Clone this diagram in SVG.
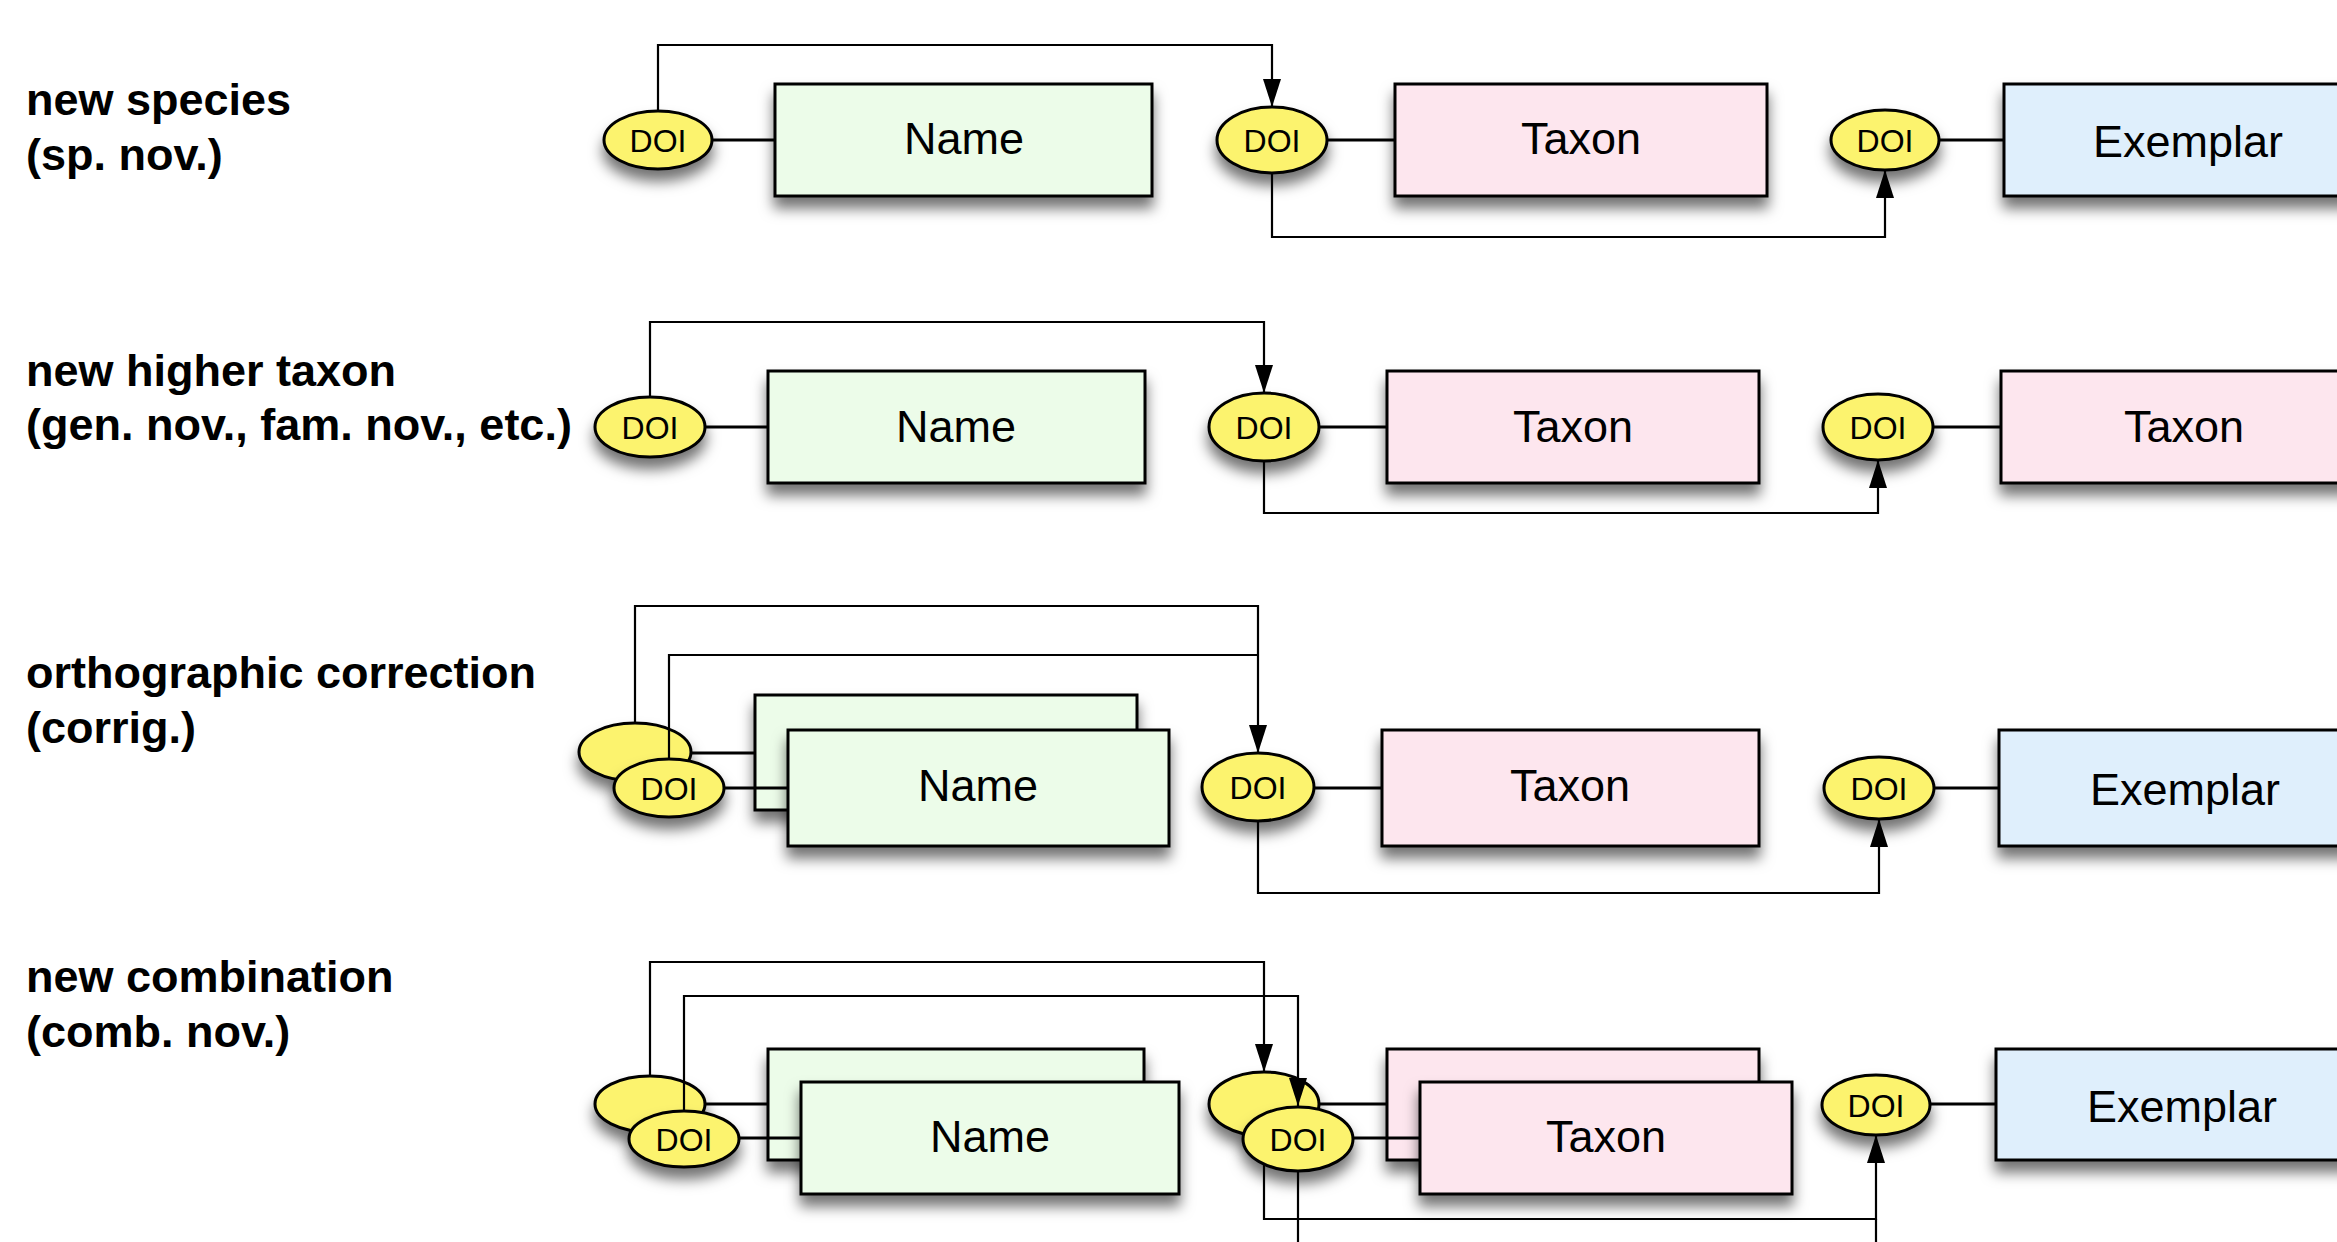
<svg xmlns="http://www.w3.org/2000/svg" width="2337" height="1242" viewBox="0 0 2337 1242">
<defs>
<filter id="sh" x="-20%" y="-30%" width="140%" height="190%">
<feDropShadow dx="0" dy="11" stdDeviation="7" flood-color="#000" flood-opacity="0.55"/>
</filter>
<marker id="arr" markerUnits="userSpaceOnUse" markerWidth="30" markerHeight="20" refX="28" refY="9" orient="auto">
<path d="M0,0 L28,9 L0,18 z" fill="#000"/>
</marker>
<style>
.lbl{font-family:"Liberation Sans",Arial,sans-serif;font-weight:bold;font-size:45px;fill:#000}
.t{font-family:"Liberation Sans",Arial,sans-serif;font-size:45px;fill:#000;text-anchor:middle}
.d{font-family:"Liberation Sans",Arial,sans-serif;font-size:32px;fill:#000;text-anchor:middle}
.doi{fill:#FCF36E;stroke:#000;stroke-width:3;filter:url(#sh)}
.name{fill:#ECFCE9;stroke:#000;stroke-width:3;filter:url(#sh)}
.taxon{fill:#FDE6EE;stroke:#000;stroke-width:3;filter:url(#sh)}
.ex{fill:#DFEFFC;stroke:#000;stroke-width:3;filter:url(#sh)}
.c{fill:none;stroke:#000;stroke-width:2.2}
.a{fill:none;stroke:#000;stroke-width:2.2;marker-end:url(#arr)}
.l{fill:none;stroke:#000;stroke-width:3}
</style>
</defs>
<rect width="2337" height="1242" fill="#fff"/>

<g id="labels">
<text class="lbl" x="26" y="115">new species</text>
<text class="lbl" x="26" y="170">(sp. nov.)</text>
<text class="lbl" x="26" y="386">new higher taxon</text>
<text class="lbl" x="26" y="440">(gen. nov., fam. nov., etc.)</text>
<text class="lbl" x="26" y="688">orthographic correction</text>
<text class="lbl" x="26" y="743">(corrig.)</text>
<text class="lbl" x="26" y="992">new combination</text>
<text class="lbl" x="26" y="1047">(comb. nov.)</text>
</g>

<!-- Row 1 -->
<g id="r1-doi1"><ellipse class="doi" cx="658" cy="140" rx="54" ry="29"/><text class="d" x="658" y="152">DOI</text></g>
<g id="r1-name"><rect class="name" x="775" y="84" width="377" height="112"/><text class="t" x="964" y="154">Name</text></g>
<g id="r1-doi2"><ellipse class="doi" cx="1272" cy="140" rx="55" ry="33"/><text class="d" x="1272" y="152">DOI</text></g>
<g id="r1-taxon"><rect class="taxon" x="1395" y="84" width="372" height="112"/><text class="t" x="1581" y="154">Taxon</text></g>
<g id="r1-doi3"><ellipse class="doi" cx="1885" cy="140" rx="54" ry="30"/><text class="d" x="1885" y="152">DOI</text></g>
<g id="r1-exemplar"><rect class="ex" x="2004" y="84" width="372" height="112"/><text class="t" x="2188" y="157">Exemplar</text></g>

<!-- Row 2 -->
<g id="r2-doi1"><ellipse class="doi" cx="650" cy="427" rx="55" ry="30"/><text class="d" x="650" y="439">DOI</text></g>
<g id="r2-name"><rect class="name" x="768" y="371" width="377" height="112"/><text class="t" x="956" y="442">Name</text></g>
<g id="r2-doi2"><ellipse class="doi" cx="1264" cy="427" rx="55" ry="34"/><text class="d" x="1264" y="439">DOI</text></g>
<g id="r2-taxon"><rect class="taxon" x="1387" y="371" width="372" height="112"/><text class="t" x="1573" y="442">Taxon</text></g>
<g id="r2-doi3"><ellipse class="doi" cx="1878" cy="427" rx="55" ry="33"/><text class="d" x="1878" y="439">DOI</text></g>
<g id="r2-taxon2"><rect class="taxon" x="2001" y="371" width="372" height="112"/><text class="t" x="2184" y="442">Taxon</text></g>

<!-- Row 3 back nodes -->
<g id="r3-doi1-back"><ellipse class="doi" cx="635" cy="752" rx="56" ry="29"/></g>
<g id="r3-name-back"><rect class="name" x="755" y="695" width="382" height="115"/></g>

<!-- Row 4 back nodes -->
<g id="r4-doi1-back"><ellipse class="doi" cx="650" cy="1104" rx="55" ry="28"/></g>
<g id="r4-name-back"><rect class="name" x="768" y="1049" width="376" height="111"/></g>
<g id="r4-doi2-back"><ellipse class="doi" cx="1264" cy="1104" rx="55" ry="32"/></g>
<g id="r4-taxon-back"><rect class="taxon" x="1387" y="1049" width="372" height="111"/></g>

<g id="connectors">
<!-- row 1 -->
<line class="l" x1="712" y1="140" x2="775" y2="140"/>
<line class="l" x1="1327" y1="140" x2="1395" y2="140"/>
<line class="l" x1="1939" y1="140" x2="2004" y2="140"/>
<path class="a" d="M658,111 V45 H1272 V107"/>
<path class="a" d="M1272,173 V237 H1885 V170"/>
<!-- row 2 -->
<line class="l" x1="705" y1="427" x2="768" y2="427"/>
<line class="l" x1="1319" y1="427" x2="1387" y2="427"/>
<line class="l" x1="1933" y1="427" x2="2001" y2="427"/>
<path class="a" d="M650,397 V322 H1264 V393"/>
<path class="a" d="M1264,461 V513 H1878 V460"/>
<!-- row 3 -->
<line class="l" x1="691" y1="753" x2="755" y2="753"/>
<line class="l" x1="724" y1="788" x2="788" y2="788"/>
<line class="l" x1="1314" y1="788" x2="1382" y2="788"/>
<line class="l" x1="1934" y1="788" x2="1999" y2="788"/>
<path class="a" d="M635,723 V606 H1258 V753"/>
<path class="c" d="M669,759 V655 H1258"/>
<path class="a" d="M1258,821 V893 H1879 V819"/>
<!-- row 4 -->
<line class="l" x1="705" y1="1104" x2="768" y2="1104"/>
<line class="l" x1="739" y1="1138" x2="801" y2="1138"/>
<line class="l" x1="1319" y1="1104" x2="1387" y2="1104"/>
<line class="l" x1="1353" y1="1138" x2="1420" y2="1138"/>
<line class="l" x1="1930" y1="1104" x2="1996" y2="1104"/>
<path class="a" d="M650,1076 V962 H1264 V1072"/>
<path class="a" d="M684,1111 V996 H1298 V1106"/>
<path class="a" d="M1264,1136 V1219 H1876 V1135"/>
<path class="c" d="M1298,1172 V1260 H1876 V1219"/>
</g>

<!-- Row 3 front nodes -->
<g id="r3-doi1"><ellipse class="doi" cx="669" cy="788" rx="55" ry="29"/><text class="d" x="669" y="800">DOI</text></g>
<g id="r3-name"><rect class="name" x="788" y="730" width="381" height="116"/><text class="t" x="978" y="801">Name</text></g>
<g id="r3-doi2"><ellipse class="doi" cx="1258" cy="787" rx="56" ry="34"/><text class="d" x="1258" y="799">DOI</text></g>
<g id="r3-taxon"><rect class="taxon" x="1382" y="730" width="377" height="116"/><text class="t" x="1570" y="801">Taxon</text></g>
<g id="r3-doi3"><ellipse class="doi" cx="1879" cy="788" rx="55" ry="31"/><text class="d" x="1879" y="800">DOI</text></g>
<g id="r3-exemplar"><rect class="ex" x="1999" y="730" width="377" height="116"/><text class="t" x="2185" y="805">Exemplar</text></g>

<!-- Row 4 front nodes -->
<g id="r4-doi1"><ellipse class="doi" cx="684" cy="1139" rx="55" ry="28"/><text class="d" x="684" y="1151">DOI</text></g>
<g id="r4-name"><rect class="name" x="801" y="1082" width="378" height="112"/><text class="t" x="990" y="1152">Name</text></g>
<g id="r4-doi2"><ellipse class="doi" cx="1298" cy="1139" rx="55" ry="32"/><text class="d" x="1298" y="1151">DOI</text></g>
<g id="r4-taxon"><rect class="taxon" x="1420" y="1082" width="372" height="112"/><text class="t" x="1606" y="1152">Taxon</text></g>
<g id="r4-doi3"><ellipse class="doi" cx="1876" cy="1105" rx="54" ry="30"/><text class="d" x="1876" y="1117">DOI</text></g>
<g id="r4-exemplar"><rect class="ex" x="1996" y="1049" width="376" height="111"/><text class="t" x="2182" y="1122">Exemplar</text></g>
</svg>
